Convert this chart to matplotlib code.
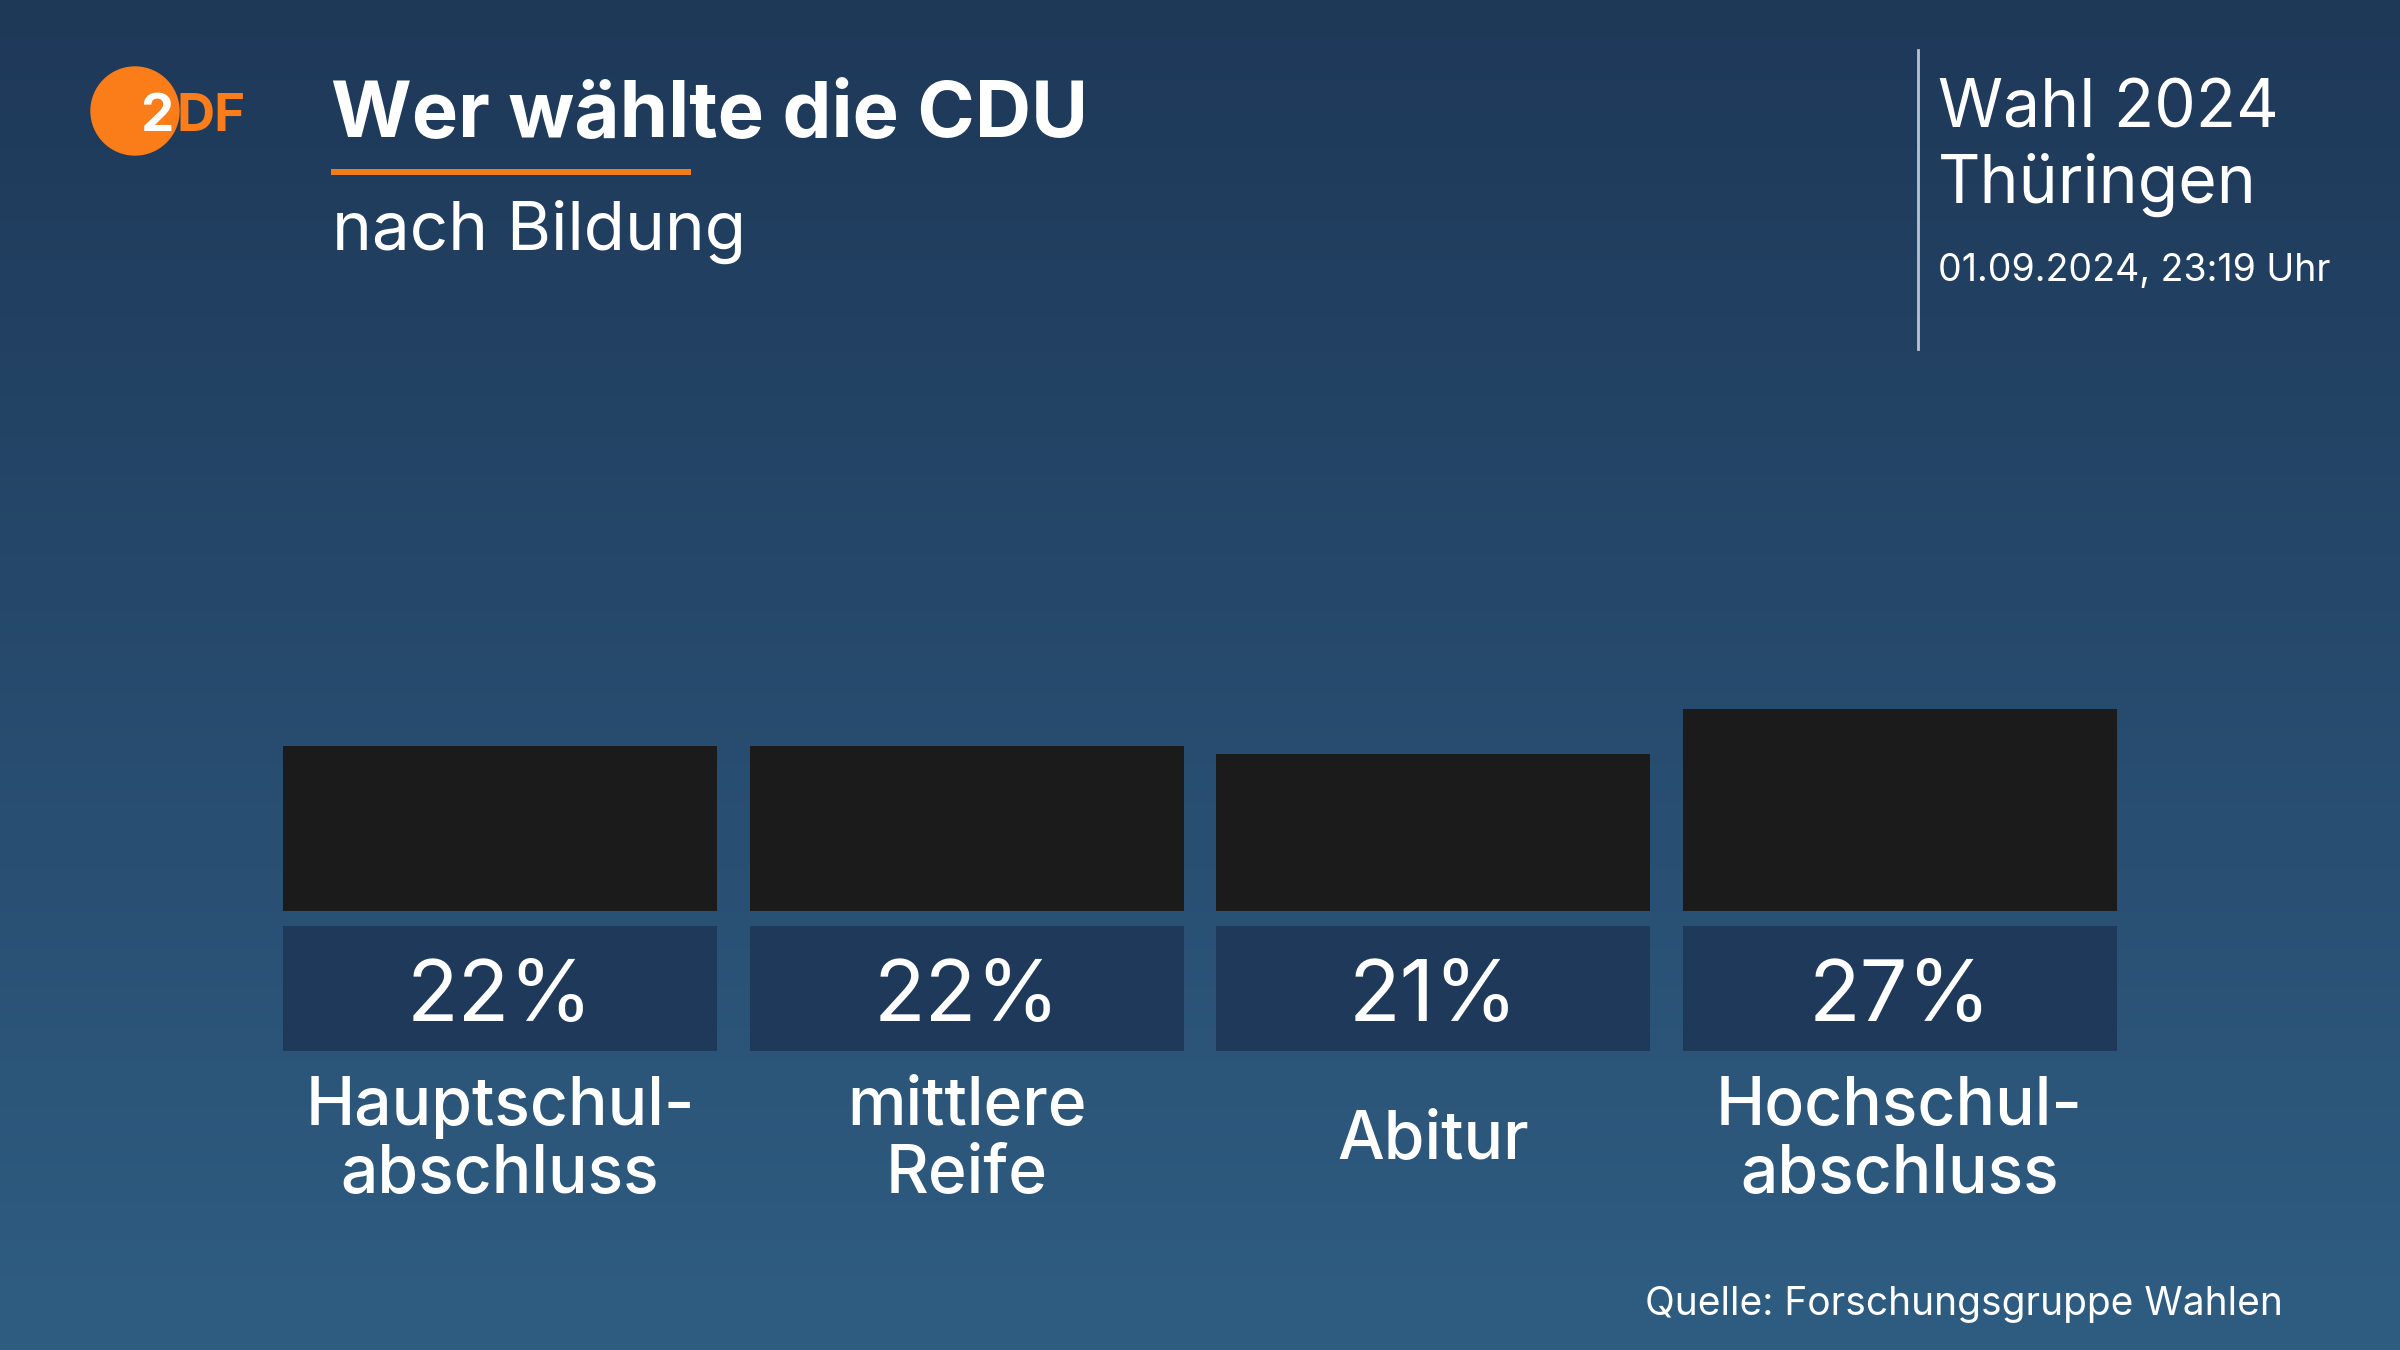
import numpy as np
import matplotlib
matplotlib.use("Agg")
from matplotlib import pyplot as plt
from matplotlib.patches import Circle, Rectangle

# data
categories = ["Hauptschul-\nabschluss", "mittlere\nReife", "Abitur", "Hochschul-\nabschluss"]
values = [22, 22, 21, 27]
labels = ["22%", "22%", "21%", "27%"]

title = "Wer wählte die CDU"
subtitle = "nach Bildung"
header = ["Wahl 2024", "Thüringen"]
stamp = "01.09.2024, 23:19 Uhr"
source = "Quelle: Forschungsgruppe Wahlen"

W, H = 2400, 1350
plt.rcParams["font.family"] = ["Inter", "DejaVu Sans"]

fig = plt.figure(figsize=(24, 13.5), dpi=100)

# background gradient, axes in pixel coords (y down)
bg = fig.add_axes([0, 0, 1, 1])
bg.set_xlim(0, W)
bg.set_ylim(H, 0)
bg.axis("off")
top = np.array([30, 56, 88]) / 255
bot = np.array([47, 93, 130]) / 255
t = np.linspace(0, 1, 256)[:, None, None]
grad = top * (1 - t) + bot * t
grad = np.repeat(grad, 2, axis=1)
bg.imshow(grad, extent=(0, W, H, 0), aspect="auto", zorder=0)

# logo
bg.add_patch(Circle((135, 111), 44, color="#fa7d19", zorder=2))
bg.text(140, 131, "2", color="white", fontsize=38, fontweight="bold", va="baseline", zorder=3)
bg.text(176, 131, "DF", color="#fa7d19", fontsize=38, fontweight="bold", va="baseline", zorder=3)

# title block
bg.text(331, 137, title, color="white", fontsize=56, fontweight="bold", va="baseline")
bg.add_patch(Rectangle((331, 169), 360, 6, color="#f07d19", lw=0))
bg.text(332, 250, subtitle, color="white", fontsize=48.5, va="baseline")

# right header
bg.plot([1918, 1918], [50, 349], color="#b8c4d0", lw=2)
bg.text(1938, 128, header[0], color="white", fontsize=47.5, va="baseline")
bg.text(1938, 203, header[1], color="white", fontsize=47.5, va="baseline")
bg.text(1938, 281, stamp, color="white", fontsize=27, va="baseline")

bg.text(2283, 1315, source, color="white", fontsize=28, ha="right", va="baseline")

# bars
px = 7.48          # pixels per percent
base = 911         # baseline in pixels from top
pitch = 466.5
ax = fig.add_axes([(500 - pitch / 2) / W, (H - base - 20 * px) / H, 4 * pitch / W, 60 * px / H])
ax.set_xlim(-0.5, 3.5)
ax.set_ylim(-20, 40)
ax.axis("off")
ax.patch.set_alpha(0)

x = np.arange(len(values))
bw = 434 / pitch
ax.bar(x, values, width=bw, color="#1b1b1b")
ax.bar(x, [16.7] * len(values), bottom=-18.7, width=bw, color="#1e3959")

for i, v in enumerate(labels):
    ax.text(x[i], -110 / px, v, color="white", fontsize=61, ha="center", va="baseline")

for i, c in enumerate(categories):
    lines = c.split("\n")
    n = len(lines)
    for j, ln in enumerate(lines):
        yb = 1136 + 23 + (j - (n - 1) / 2) * 68
        ax.text(x[i], -(yb - base) / px, ln, color="white", fontsize=47.5, fontweight="medium",
                ha="center", va="baseline", clip_on=False)

fig.savefig("out.png", dpi=100)
